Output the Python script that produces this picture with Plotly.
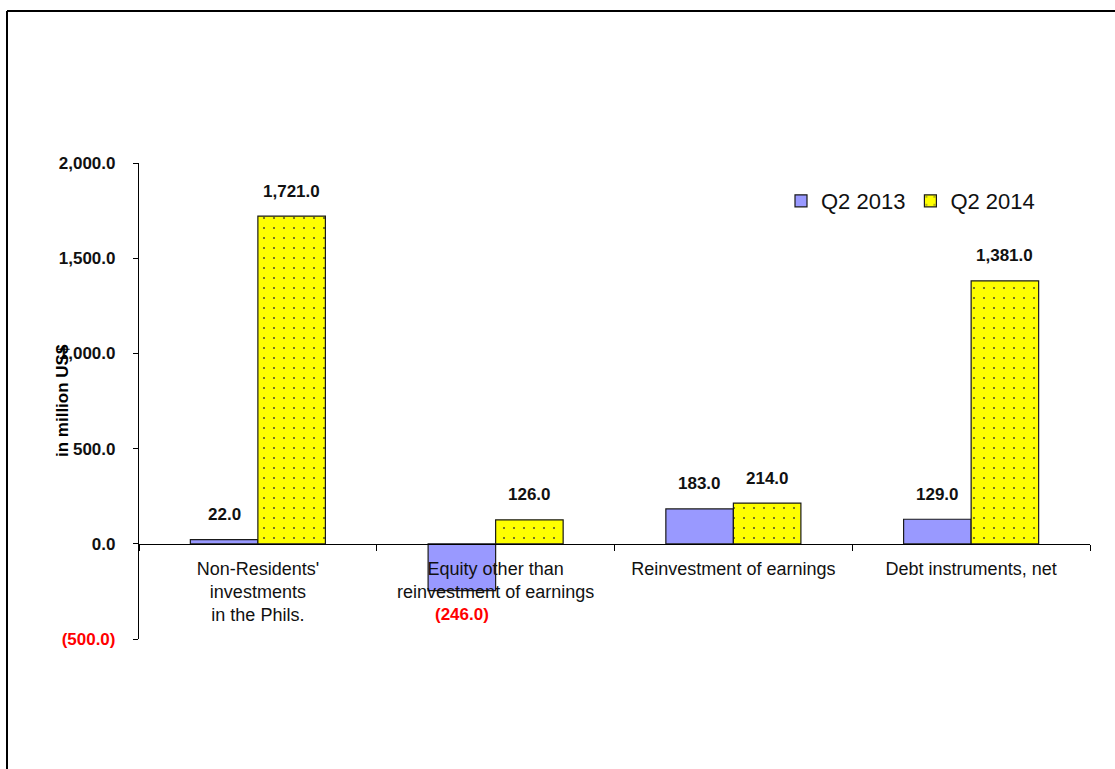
import plotly.graph_objects as go

categories = ["Non-Residents'<br>investments<br>in the Phils.",
              "Equity other than<br>reinvestment of earnings",
              "Reinvestment of earnings",
              "Debt instruments, net"]
series_names = ["Q2 2013", "Q2 2014"]
q2_2013 = [22.0, -246.0, 183.0, 129.0]
q2_2014 = [1721.0, 126.0, 214.0, 1381.0]
tick_vals = [-500, 0, 500, 1000, 1500, 2000]
tick_text = ['<span style="color:#FF0000">(500.0)</span>', "0.0", "500.0",
             "1,000.0", "1,500.0", "2,000.0"]

FONT = "Liberation Sans, Arial, sans-serif"
W, H = 1115, 769
ML, MR, MT, MB = 139, W - 1090, 163, H - 639
plot_w = W - ML - MR
plot_h = H - MT - MB
y_min, y_max = -500, 2000
bargap = 0.432

fig = go.Figure()
fig.add_trace(go.Bar(
    x=categories, y=q2_2013, name=series_names[0],
    marker=dict(color="#9999FF", line=dict(color="#1a1a1a", width=1.2)),
))
fig.add_trace(go.Bar(
    x=categories, y=q2_2014, name=series_names[1],
    marker=dict(color="#FFFF00", line=dict(color="#1a1a1a", width=1.2),
                pattern=dict(shape=".", fgcolor="#333333", bgcolor="#FFFF00",
                             size=10, solidity=0.025, fillmode="replace")),
))


def fmt(v):
    s = f"{abs(v):,.1f}"
    return f"({s})" if v < 0 else s


cat_w = plot_w / len(categories)
bar_w = cat_w * (1 - bargap) / 2
annotations = []
for si, vals in enumerate([q2_2013, q2_2014]):
    for ci, v in enumerate(vals):
        annotations.append(dict(
            x=categories[ci], y=v, xref="x", yref="y",
            text=fmt(v), showarrow=False,
            xshift=(si - 0.5) * bar_w, yshift=25 if v >= 0 else -24,
            yanchor="middle",
            font=dict(family=FONT, size=17, color="#FF0000" if v < 0 else "#111111",
                      weight="bold"),
        ))
annotations.append(dict(
    text="in million US$", textangle=-90, showarrow=False,
    xref="paper", yref="paper", x=(62 - ML) / plot_w, y=0.5,
    xanchor="center", yanchor="middle",
    font=dict(family=FONT, size=17, color="#000000", weight="bold"),
))

zero_pos = (0 - y_min) / (y_max - y_min)

fig.update_layout(
    width=W, height=H,
    margin=dict(l=ML, r=MR, t=MT, b=MB, pad=0),
    paper_bgcolor="white", plot_bgcolor="white",
    barmode="group", bargap=bargap, bargroupgap=0,
    showlegend=True,
    legend=dict(orientation="h", x=(781 - ML) / plot_w, y=1 - (201 - MT) / plot_h,
                xanchor="left", yanchor="middle",
                font=dict(family=FONT, size=22, color="#111111"),
                bgcolor="rgba(0,0,0,0)", itemwidth=30, tracegroupgap=0),
    xaxis=dict(
        type="category", anchor="free", position=zero_pos,
        showline=True, linecolor="#000000", linewidth=1.2,
        ticks="outside", tickson="boundaries", ticklen=6, tickcolor="#000000",
        tickwidth=1.2, showgrid=False, zeroline=False,
        tickfont=dict(family=FONT, size=18, color="#111111"),
        ticklabelstandoff=8,
    ),
    yaxis=dict(
        range=[y_min, y_max], tickvals=tick_vals, ticktext=tick_text,
        showline=True, linecolor="#000000", linewidth=1.2,
        ticks="outside", ticklen=5, tickcolor="#000000", tickwidth=1.2,
        showgrid=False, zeroline=False,
        tickfont=dict(family=FONT, size=17, color="#111111", weight="bold"),
        ticklabelstandoff=14,
    ),
    annotations=annotations,
    shapes=[
        dict(type="line", xref="paper", yref="paper",
             x0=(7 - ML) / plot_w, x1=(W + 20 - ML) / plot_w,
             y0=1 + (MT - 11) / plot_h, y1=1 + (MT - 11) / plot_h,
             line=dict(color="#000000", width=2)),
        dict(type="line", xref="paper", yref="paper",
             x0=(7 - ML) / plot_w, x1=(7 - ML) / plot_w,
             y0=1 + (MT - 11) / plot_h, y1=-(H + 20 - 639) / plot_h,
             line=dict(color="#000000", width=2)),
    ],
)

fig.write_html("out.html")
